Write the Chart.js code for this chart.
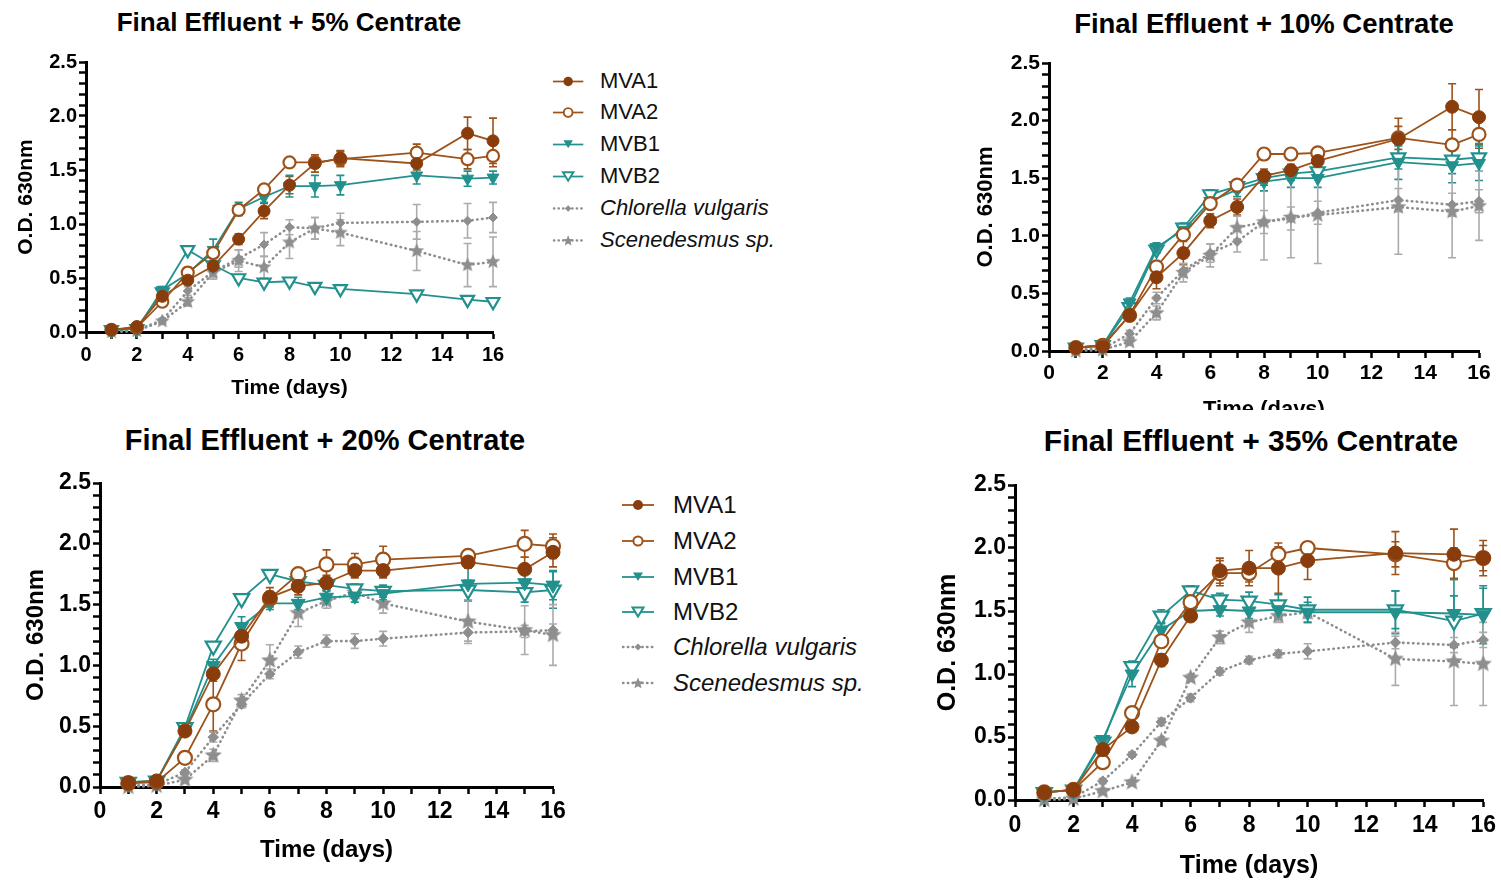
<!DOCTYPE html>
<html>
<head>
<meta charset="utf-8">
<script src="https://cdn.jsdelivr.net/npm/chart.js@4.4.1/dist/chart.umd.min.js"></script>
<style>
  body { margin: 0; background: #fff; width: 1501px; height: 883px; overflow: hidden; position: relative;
         font-family: 'Liberation Sans', Arial, Helvetica, sans-serif; }
  .top { position: absolute; left: 0; top: 0; width: 1501px; height: 410px; overflow: hidden; }
  canvas { position: absolute; }
  .ttl { position: absolute; font-weight: bold; white-space: nowrap; transform: translate(-50%, -50%); color: #000; }
  .leg { position: absolute; white-space: nowrap; color: #111; display: flex; align-items: center; }
  .leg svg { position: absolute; }
</style>
</head>
<body>
<div class="top">
  <canvas id="c5"></canvas>
  <canvas id="c10"></canvas>
</div>
<canvas id="c20"></canvas>
<canvas id="c35"></canvas>

<div class="ttl" style="left:289px; top:22px; font-size:26px;">Final Effluent + 5% Centrate</div>
<div class="ttl" style="left:1264px; top:24px; font-size:27.5px;">Final Effluent + 10% Centrate</div>
<div class="ttl" style="left:325px; top:440px; font-size:29px;">Final Effluent + 20% Centrate</div>
<div class="ttl" style="left:1251px; top:441px; font-size:30px;">Final Effluent + 35% Centrate</div>

<script>
// sampling days
const days = [1, 2, 3, 4, 5, 6, 7, 8, 9, 10, 13, 15, 16];
const seriesNames = ['MVA1', 'MVA2', 'MVB1', 'MVB2', 'Chlorella vulgaris', 'Scenedesmus sp.'];
const xTickLabels = [0, 2, 4, 6, 8, 10, 12, 14, 16];
const yTickLabels = ['0.0', '0.5', '1.0', '1.5', '2.0', '2.5'];

// Final Effluent + 5% Centrate
const mva1_5 = [0.02, 0.05, 0.33, 0.48, 0.61, 0.86, 1.12, 1.36, 1.56, 1.61, 1.56, 1.84, 1.77];
const mva2_5 = [0.02, 0.04, 0.28, 0.55, 0.73, 1.13, 1.32, 1.57, 1.57, 1.60, 1.66, 1.60, 1.63];
const mvb1_5 = [0.02, 0.03, 0.39, 0.54, 0.76, 1.14, 1.25, 1.35, 1.35, 1.36, 1.45, 1.42, 1.43];
const mvb2_5 = [0.02, 0.03, 0.37, 0.76, 0.62, 0.50, 0.46, 0.47, 0.42, 0.40, 0.35, 0.30, 0.28];
const chl_5  = [0.01, 0.02, 0.11, 0.38, 0.56, 0.68, 0.81, 0.97, 0.96, 1.01, 1.02, 1.03, 1.06];
const sce_5  = [0.00, 0.01, 0.10, 0.28, 0.55, 0.66, 0.60, 0.83, 0.96, 0.92, 0.75, 0.62, 0.65];
const e_mva1_5 = [0, 0.01, 0.03, 0.04, 0.04, 0.05, 0.07, 0.08, 0.08, 0.07, 0.06, 0.15, 0.21];
const e_mva2_5 = [0, 0.01, 0.03, 0.05, 0.05, 0.05, 0.04, 0.03, 0.05, 0.07, 0.08, 0.09, 0.10];
const e_mvb1_5 = [0, 0.01, 0.03, 0.04, 0.10, 0.06, 0.05, 0.10, 0.10, 0.09, 0.08, 0.07, 0.06];
const e_mvb2_5 = [0, 0.01, 0.02, 0.02, 0.02, 0.02, 0.02, 0.02, 0.02, 0.02, 0.02, 0.02, 0.02];
const e_chl_5  = [0, 0.01, 0.02, 0.04, 0.05, 0.08, 0.11, 0.07, 0.10, 0.09, 0.16, 0.16, 0.14];
const e_sce_5  = [0, 0.01, 0.02, 0.04, 0.06, 0.10, 0.10, 0.15, 0.10, 0.12, 0.18, 0.20, 0.23];

// Final Effluent + 10% Centrate
const mva1_10 = [0.03, 0.04, 0.31, 0.64, 0.85, 1.13, 1.25, 1.52, 1.57, 1.65, 1.84, 2.12, 2.03];
const mva2_10 = [0.03, 0.05, 0.31, 0.73, 1.01, 1.28, 1.44, 1.71, 1.71, 1.72, 1.85, 1.79, 1.88];
const mvb1_10 = [0.03, 0.05, 0.42, 0.90, 1.05, 1.30, 1.40, 1.47, 1.50, 1.50, 1.64, 1.61, 1.63];
const mvb2_10 = [0.03, 0.05, 0.38, 0.88, 1.07, 1.36, 1.43, 1.50, 1.54, 1.56, 1.68, 1.66, 1.68];
const chl_10  = [0.01, 0.02, 0.15, 0.46, 0.70, 0.85, 0.95, 1.12, 1.15, 1.20, 1.31, 1.27, 1.30];
const sce_10  = [0.00, 0.01, 0.08, 0.33, 0.68, 0.83, 1.07, 1.12, 1.16, 1.18, 1.25, 1.21, 1.26];
const e_mva1_10 = [0, 0.02, 0.03, 0.10, 0.10, 0.06, 0.07, 0.06, 0.05, 0.05, 0.18, 0.20, 0.24];
const e_mva2_10 = [0, 0.02, 0.03, 0.04, 0.04, 0.04, 0.04, 0.03, 0.03, 0.03, 0.10, 0.13, 0.12];
const e_mvb1_10 = [0, 0.01, 0.04, 0.04, 0.05, 0.05, 0.06, 0.08, 0.08, 0.08, 0.15, 0.15, 0.15];
const e_mvb2_10 = [0, 0.01, 0.03, 0.03, 0.04, 0.04, 0.05, 0.06, 0.06, 0.06, 0.10, 0.12, 0.12];
const e_chl_10  = [0, 0.01, 0.03, 0.05, 0.06, 0.08, 0.09, 0.10, 0.10, 0.10, 0.10, 0.10, 0.10];
const e_sce_10  = [0, 0.01, 0.03, 0.06, 0.08, 0.10, 0.10, 0.33, 0.35, 0.42, 0.41, 0.40, 0.30];

// Final Effluent + 20% Centrate
const mva1_20 = [0.035, 0.05, 0.46, 0.93, 1.24, 1.56, 1.65, 1.68, 1.78, 1.78, 1.85, 1.79, 1.93];
const mva2_20 = [0.03, 0.04, 0.24, 0.68, 1.18, 1.55, 1.75, 1.83, 1.83, 1.87, 1.90, 2.00, 1.98];
const mvb1_20 = [0.04, 0.05, 0.47, 1.00, 1.32, 1.51, 1.51, 1.56, 1.57, 1.59, 1.67, 1.68, 1.66];
const mvb2_20 = [0.04, 0.05, 0.49, 1.16, 1.55, 1.75, 1.69, 1.66, 1.63, 1.61, 1.62, 1.60, 1.62];
const chl_20  = [0.01, 0.02, 0.12, 0.41, 0.68, 0.93, 1.11, 1.20, 1.20, 1.22, 1.27, 1.28, 1.29];
const sce_20  = [0.00, 0.01, 0.06, 0.26, 0.71, 1.04, 1.43, 1.53, 1.60, 1.51, 1.36, 1.29, 1.25];
const e_mva1_20 = [0, 0.01, 0.03, 0.06, 0.07, 0.08, 0.07, 0.06, 0.06, 0.06, 0.05, 0.10, 0.12];
const e_mva2_20 = [0, 0.01, 0.03, 0.22, 0.14, 0.06, 0.05, 0.12, 0.09, 0.11, 0.05, 0.11, 0.10];
const e_mvb1_20 = [0, 0.01, 0.03, 0.05, 0.08, 0.05, 0.05, 0.05, 0.05, 0.05, 0.14, 0.10, 0.12];
const e_mvb2_20 = [0, 0.01, 0.02, 0.03, 0.03, 0.03, 0.03, 0.04, 0.04, 0.05, 0.08, 0.08, 0.15];
const e_chl_20  = [0, 0.01, 0.02, 0.04, 0.03, 0.04, 0.05, 0.05, 0.06, 0.06, 0.07, 0.05, 0.05];
const e_sce_20  = [0, 0.01, 0.02, 0.05, 0.05, 0.13, 0.11, 0.06, 0.05, 0.08, 0.18, 0.20, 0.25];

// Final Effluent + 35% Centrate
const mva1_35 = [0.06, 0.08, 0.40, 0.58, 1.11, 1.46, 1.82, 1.84, 1.84, 1.90, 1.96, 1.95, 1.92];
const mva2_35 = [0.06, 0.08, 0.30, 0.69, 1.26, 1.57, 1.80, 1.80, 1.95, 2.00, 1.95, 1.88, 1.92];
const mvb1_35 = [0.06, 0.08, 0.48, 1.00, 1.35, 1.50, 1.51, 1.50, 1.51, 1.49, 1.49, 1.48, 1.47];
const mvb2_35 = [0.06, 0.08, 0.46, 1.06, 1.46, 1.66, 1.59, 1.58, 1.55, 1.51, 1.51, 1.42, 1.48];
const chl_35  = [0.01, 0.02, 0.15, 0.36, 0.62, 0.81, 1.02, 1.11, 1.16, 1.18, 1.25, 1.23, 1.27];
const sce_35  = [0.00, 0.01, 0.07, 0.14, 0.47, 0.97, 1.29, 1.41, 1.46, 1.49, 1.12, 1.10, 1.08];
const e_mva1_35 = [0, 0.01, 0.03, 0.03, 0.05, 0.04, 0.10, 0.14, 0.20, 0.15, 0.17, 0.20, 0.14];
const e_mva2_35 = [0, 0.01, 0.03, 0.04, 0.05, 0.04, 0.10, 0.07, 0.06, 0.03, 0.10, 0.12, 0.10];
const e_mvb1_35 = [0, 0.01, 0.03, 0.10, 0.05, 0.04, 0.05, 0.06, 0.07, 0.08, 0.17, 0.27, 0.23];
const e_mvb2_35 = [0, 0.01, 0.03, 0.04, 0.05, 0.04, 0.05, 0.07, 0.08, 0.10, 0.15, 0.20, 0.20];
const e_chl_35  = [0, 0.01, 0.02, 0.02, 0.03, 0.03, 0.03, 0.03, 0.03, 0.06, 0.05, 0.06, 0.06];
const e_sce_35  = [0, 0.01, 0.02, 0.02, 0.03, 0.03, 0.05, 0.08, 0.05, 0.05, 0.21, 0.35, 0.33];

const FONT = "'Liberation Sans', Arial, Helvetica, sans-serif";
const BROWN = '#9d5219';
const BROWN_DARK = '#8a3d0c';
const TEAL = '#22918e';
const GRAY = '#8e8e8e';
const GRAY_ERR = '#ababab';

function starImage(R, color) {
  const s = Math.ceil(R * 2) + 2;
  const c = document.createElement('canvas');
  c.width = s; c.height = s;
  const g = c.getContext('2d');
  g.fillStyle = color;
  g.beginPath();
  for (let k = 0; k < 10; k++) {
    const rr = k % 2 === 0 ? R : R * 0.45;
    const a = -Math.PI / 2 + k * Math.PI / 5;
    const px = s / 2 + rr * Math.cos(a), py = s / 2 + rr * Math.sin(a);
    if (k === 0) g.moveTo(px, py); else g.lineTo(px, py);
  }
  g.closePath();
  g.fill();
  return c;
}

// error bars drawn under the markers
const errorBars = {
  id: 'errorBars',
  beforeDatasetsDraw(chart) {
    const {ctx, scales: {x, y}} = chart;
    chart.data.datasets.forEach(ds => {
      ctx.save();
      ctx.strokeStyle = ds.errColor;
      ctx.lineWidth = 1.6;
      ds.data.forEach((pt, j) => {
        const e = ds.errors[j];
        if (!e) return;
        const px = x.getPixelForValue(pt.x);
        const t = y.getPixelForValue(pt.y + e), b = y.getPixelForValue(Math.max(0, pt.y - e));
        ctx.beginPath();
        ctx.moveTo(px, t); ctx.lineTo(px, b);
        ctx.moveTo(px - 4, t); ctx.lineTo(px + 4, t);
        ctx.moveTo(px - 4, b); ctx.lineTo(px + 4, b);
        ctx.stroke();
      });
      ctx.restore();
    });
  }
};

function makeDatasets(vals, errs, r) {
  const styles = [
    {color: BROWN, bg: BROWN_DARK, pbc: BROWN_DARK, ps: 'circle', pr: r, bw: 1},
    {color: BROWN, bg: '#fff', pbc: BROWN, ps: 'circle', pr: r, bw: 2.2},
    {color: TEAL, bg: TEAL, pbc: TEAL, ps: 'triangle', rot: 180, pr: r * 1.15, bw: 1},
    {color: TEAL, bg: '#fff', pbc: TEAL, ps: 'triangle', rot: 180, pr: r * 1.25, bw: 2.2},
    {color: GRAY, bg: GRAY, pbc: GRAY, ps: 'rectRot', pr: r * 0.75, bw: 1, dotted: true},
    {color: GRAY, bg: GRAY, pbc: GRAY, ps: starImage(r * 1.3, GRAY), pr: r, bw: 1, dotted: true}
  ];
  return styles.map((s, i) => ({
    label: seriesNames[i],
    data: days.map((d, j) => ({x: d, y: vals[i][j]})),
    errors: errs[i],
    errColor: i < 2 ? BROWN : i < 4 ? TEAL : GRAY_ERR,
    borderColor: s.color,
    borderWidth: s.dotted ? 2.6 : 1.8,
    borderDash: s.dotted ? [0.5, 4.5] : [],
    borderCapStyle: s.dotted ? 'round' : 'butt',
    pointStyle: s.ps,
    pointRotation: s.rot || 0,
    pointRadius: s.pr,
    pointBackgroundColor: s.bg,
    pointBorderColor: s.pbc,
    pointBorderWidth: s.bw,
    tension: 0,
    fill: false,
    clip: false
  }));
}

function makeChart(p) {
  const half = 0.6 * p.axisFont;
  const left = Math.round(p.yTitleX - half);
  const top = p.yTop - p.padTop;
  const bottom = Math.round(p.xTitleY + half);
  const yw = p.x0 - left, xh = bottom - p.y0;
  const cv = document.getElementById(p.id);
  cv.width = p.x16 + p.padRight - left;
  cv.height = bottom - top;
  cv.style.left = left + 'px';
  cv.style.top = top + 'px';

  const tickFont = {family: FONT, size: p.tickFont, weight: 'bold'};
  const titleFont = {family: FONT, size: p.axisFont, weight: 'bold'};
  const grid = {display: true, drawOnChartArea: false, drawTicks: true, tickLength: 7, tickWidth: 2.5, color: '#000'};
  const border = {color: '#000', width: 3};

  new Chart(cv, {
    type: 'line',
    data: {datasets: makeDatasets(p.vals, p.errs, p.r)},
    options: {
      responsive: false,
      animation: false,
      devicePixelRatio: 1,
      layout: {autoPadding: false, padding: {top: p.padTop, right: p.padRight, left: 0, bottom: 0}},
      plugins: {legend: {display: false}, tooltip: {enabled: false}},
      scales: {
        x: {
          type: 'linear', min: 0, max: 16, grid, border,
          ticks: {
            stepSize: 1, autoSkip: false, maxTicksLimit: 100, maxRotation: 0, minRotation: 0,
            color: '#000', font: tickFont, padding: p.xPad,
            callback: v => xTickLabels.includes(Math.round(v)) && Math.abs(v - Math.round(v)) < 1e-6 ? String(Math.round(v)) : ''
          },
          title: {display: true, text: 'Time (days)', color: '#000', font: titleFont, padding: 0},
          afterFit: s => { s.height = xh; }
        },
        y: {
          type: 'linear', min: 0, max: 2.5, grid, border,
          ticks: {
            stepSize: 0.1, autoSkip: false, maxTicksLimit: 100,
            color: '#000', font: tickFont, padding: p.yPad,
            callback: v => { const t = Math.round(v * 10); return t % 5 === 0 ? yTickLabels[t / 5] : ''; }
          },
          title: {display: true, text: 'O.D. 630nm', color: '#000', font: titleFont, padding: 0},
          afterFit: s => { s.width = yw; }
        }
      }
    },
    plugins: [errorBars]
  });
}

makeChart({id: 'c5', x0: 86, x16: 493, yTop: 62, y0: 332, yTitleX: 27, xTitleY: 388, padTop: 15, padRight: 20,
  tickFont: 20, axisFont: 21, xPad: 4, yPad: 2, r: 6,
  vals: [mva1_5, mva2_5, mvb1_5, mvb2_5, chl_5, sce_5],
  errs: [e_mva1_5, e_mva2_5, e_mvb1_5, e_mvb2_5, e_chl_5, e_sce_5]});
makeChart({id: 'c10', x0: 1049, x16: 1479, yTop: 63, y0: 351, yTitleX: 986, xTitleY: 410, padTop: 15, padRight: 20,
  tickFont: 21, axisFont: 22, xPad: 3, yPad: 2, r: 6.5,
  vals: [mva1_10, mva2_10, mvb1_10, mvb2_10, chl_10, sce_10],
  errs: [e_mva1_10, e_mva2_10, e_mvb1_10, e_mvb2_10, e_chl_10, e_sce_10]});
makeChart({id: 'c20', x0: 100, x16: 553, yTop: 483, y0: 787, yTitleX: 36, xTitleY: 851, padTop: 16, padRight: 22,
  tickFont: 23, axisFont: 24, xPad: 4, yPad: 2, r: 7,
  vals: [mva1_20, mva2_20, mvb1_20, mvb2_20, chl_20, sce_20],
  errs: [e_mva1_20, e_mva2_20, e_mvb1_20, e_mvb2_20, e_chl_20, e_sce_20]});
makeChart({id: 'c35', x0: 1015, x16: 1487, yTop: 485, y0: 800, yTitleX: 948, xTitleY: 866, padTop: 16, padRight: 14,
  tickFont: 23, axisFont: 25, xPad: 5, yPad: 2, r: 7,
  vals: [mva1_35, mva2_35, mvb1_35, mvb2_35, chl_35, sce_35],
  errs: [e_mva1_35, e_mva2_35, e_mvb1_35, e_mvb2_35, e_chl_35, e_sce_35]});

// legends (HTML, one per row)
function symbolSvg(i) {
  const dotted = i >= 4;
  const col = i < 2 ? BROWN : i < 4 ? TEAL : GRAY;
  let line = dotted
    ? `<line x1="2" y1="10" x2="32" y2="10" stroke="${col}" stroke-width="2.4" stroke-dasharray="0.5 4.3" stroke-linecap="round"/>`
    : `<line x1="1" y1="10" x2="33" y2="10" stroke="${col}" stroke-width="1.8"/>`;
  let mark = '';
  if (i === 0) mark = `<circle cx="17" cy="10" r="5" fill="${BROWN_DARK}"/>`;
  if (i === 1) mark = `<circle cx="17" cy="10" r="4.6" fill="#fff" stroke="${BROWN}" stroke-width="2"/>`;
  if (i === 2) mark = `<polygon points="12,5.5 22,5.5 17,14" fill="${TEAL}"/>`;
  if (i === 3) mark = `<polygon points="11.5,5.5 22.5,5.5 17,14.5" fill="#fff" stroke="${TEAL}" stroke-width="2"/>`;
  if (i === 4) mark = `<polygon points="17,6.5 20.5,10 17,13.5 13.5,10" fill="${GRAY}"/>`;
  if (i === 5) {
    const pts = [];
    for (let k = 0; k < 10; k++) {
      const rr = k % 2 === 0 ? 6 : 2.7;
      const a = -Math.PI / 2 + k * Math.PI / 5;
      pts.push((17 + rr * Math.cos(a)).toFixed(2) + ',' + (10.5 + rr * Math.sin(a)).toFixed(2));
    }
    mark = `<polygon points="${pts.join(' ')}" fill="${GRAY}"/>`;
  }
  return line + mark;
}

function makeLegend(rowsY, symX, textX, fontSize, scale) {
  rowsY.forEach((cy, i) => {
    const svgW = 34 * scale, svgH = 20 * scale;
    const sym = document.createElement('div');
    sym.innerHTML = `<svg width="${svgW}" height="${svgH}" viewBox="0 0 34 20">${symbolSvg(i)}</svg>`;
    sym.style.position = 'absolute';
    sym.style.left = (symX - svgW / 2) + 'px';
    sym.style.top = (cy - svgH / 2) + 'px';
    sym.style.lineHeight = '0';
    document.body.appendChild(sym);
    const txt = document.createElement('div');
    txt.className = 'leg';
    txt.textContent = seriesNames[i];
    txt.style.left = textX + 'px';
    txt.style.top = (cy - fontSize * 0.6) + 'px';
    txt.style.fontSize = fontSize + 'px';
    txt.style.lineHeight = (fontSize * 1.2) + 'px';
    if (i >= 4) txt.style.fontStyle = 'italic';
    document.body.appendChild(txt);
  });
}

makeLegend([81, 112, 144, 176, 208, 240], 568, 600, 22, 0.95);
makeLegend([505, 541, 577, 612, 647, 683], 638, 673, 24, 1.0);
</script>
</body>
</html>
